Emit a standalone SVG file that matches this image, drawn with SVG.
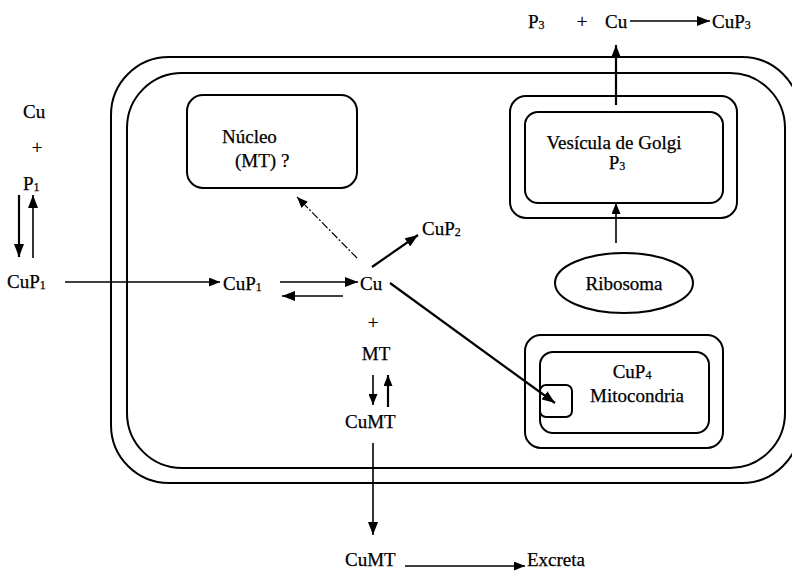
<svg xmlns="http://www.w3.org/2000/svg" width="792" height="571" viewBox="0 0 792 571">
<style>
text{font-family:"Liberation Serif","Times New Roman",serif;font-size:19px;fill:#000;stroke:#000;stroke-width:0.25}
.sub{font-size:12px}
.box{fill:none;stroke:#000;stroke-width:2}
.ln{fill:none;stroke:#000;stroke-width:1.6}
.thick{fill:none;stroke:#000;stroke-width:2.2}
.dash{fill:none;stroke:#000;stroke-width:1.2;stroke-dasharray:8 2 2 2}
</style>
<defs>
<marker id="ah" markerUnits="userSpaceOnUse" markerWidth="14" markerHeight="10" refX="13" refY="5" orient="auto">
<path d="M0,0 L13,5 L0,10 Z" fill="#000"/>
</marker>
<marker id="ahs" markerUnits="userSpaceOnUse" markerWidth="12" markerHeight="9" refX="11" refY="4.5" orient="auto">
<path d="M0,0 L11,4.5 L0,9 Z" fill="#000"/>
</marker>
</defs>
<g id="cell">
<rect class="box" x="111" y="57" width="689" height="426" rx="58"/>
<rect class="box" x="127" y="73" width="658" height="395" rx="55"/>
</g>
<g id="nucleo" font-family="Liberation Serif, serif">
<rect class="box" x="187" y="95" width="170" height="93" rx="16"/>
<text x="222" y="143">Núcleo</text>
<text x="235" y="167">(MT) ?</text>
</g>
<g id="golgi" font-family="Liberation Serif, serif">
<rect class="box" x="510" y="96" width="227" height="122" rx="16"/>
<rect class="box" x="525" y="112" width="198" height="91" rx="13"/>
<text x="614" y="149" text-anchor="middle">Vesícula de Golgi</text>
<text x="617" y="169" text-anchor="middle">P<tspan class="sub" dy="1">3</tspan></text>
</g>
<g id="ribosoma" font-family="Liberation Serif, serif">
<ellipse class="box" cx="624" cy="283" rx="69" ry="30"/>
<text x="624" y="290" text-anchor="middle">Ribosoma</text>
</g>
<g id="mitocondria" font-family="Liberation Serif, serif">
<rect class="box" x="525" y="335" width="198" height="113" rx="16"/>
<rect class="box" x="540" y="352" width="169" height="81" rx="13"/>
<rect class="box" x="540" y="385" width="32" height="32" rx="6"/>
<text x="632" y="378" text-anchor="middle">CuP<tspan class="sub" dy="1">4</tspan></text>
<text x="637" y="402" text-anchor="middle">Mitocondria</text>
</g>
<g id="labels" font-family="Liberation Serif, serif">
<text x="23" y="118">Cu</text>
<text x="37" y="154" text-anchor="middle">+</text>
<text x="23" y="190">P<tspan class="sub" dy="1">1</tspan></text>
<text x="7" y="288">CuP<tspan class="sub" dy="1">1</tspan></text>
<text x="223" y="290">CuP<tspan class="sub" dy="1">1</tspan></text>
<text x="360" y="290">Cu</text>
<text x="422" y="235">CuP<tspan class="sub" dy="1">2</tspan></text>
<text x="373" y="329" text-anchor="middle">+</text>
<text x="376" y="360" text-anchor="middle">MT</text>
<text x="345" y="428">CuMT</text>
<text x="345" y="566">CuMT</text>
<text x="527" y="566">Excreta</text>
<text x="528" y="28">P<tspan class="sub" dy="1">3</tspan></text>
<text x="582" y="28" text-anchor="middle">+</text>
<text x="605" y="28">Cu</text>
<text x="712" y="28">CuP<tspan class="sub" dy="1">3</tspan></text>
</g>
<g id="connectors">
<line class="thick" x1="19" y1="195" x2="19" y2="257" marker-end="url(#ah)"/>
<line class="ln" x1="33" y1="258" x2="33" y2="195" marker-end="url(#ah)"/>
<line class="ln" x1="65" y1="282" x2="220" y2="282" marker-end="url(#ahs)"/>
<line class="ln" x1="280" y1="282" x2="358" y2="282" marker-end="url(#ah)"/>
<line class="ln" x1="343" y1="296" x2="282" y2="296" marker-end="url(#ah)"/>
<line class="dash" x1="357" y1="258" x2="297" y2="197" marker-end="url(#ahs)"/>
<line class="thick" x1="372" y1="267" x2="418" y2="235" marker-end="url(#ah)"/>
<line class="thick" x1="390" y1="283" x2="555" y2="403" marker-end="url(#ah)"/>
<line class="ln" x1="373" y1="375" x2="373" y2="405" marker-end="url(#ahs)"/>
<line class="thick" x1="388" y1="407" x2="388" y2="375" marker-end="url(#ahs)"/>
<line class="ln" x1="373" y1="443" x2="373" y2="535" marker-end="url(#ah)"/>
<line class="ln" x1="405" y1="566" x2="525" y2="566" marker-end="url(#ahs)"/>
<line class="thick" x1="616" y1="105" x2="616" y2="45" marker-end="url(#ah)"/>
<line class="ln" x1="616" y1="243" x2="616" y2="203" marker-end="url(#ahs)"/>
<line class="ln" x1="630" y1="21" x2="710" y2="21" marker-end="url(#ah)"/>
</g>
</svg>
